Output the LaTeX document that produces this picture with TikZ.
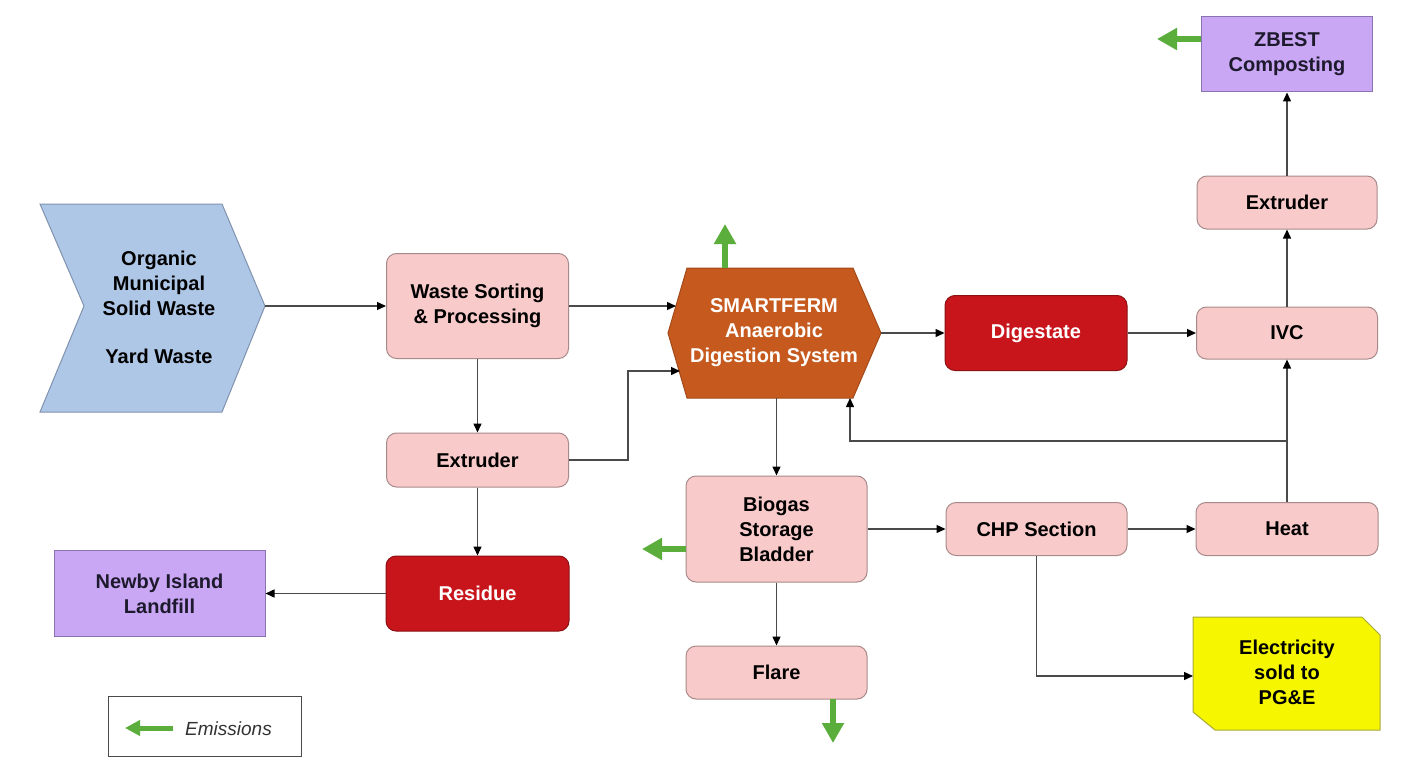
\documentclass[tikz,border=0pt]{standalone}
\usepackage{fontspec}
\setmainfont{Liberation Sans}
\usetikzlibrary{arrows.meta}
\definecolor{pinkfill}{HTML}{F9CACA}
\definecolor{pinkdraw}{HTML}{A88A8A}
\definecolor{redfill}{HTML}{C8151B}
\definecolor{reddraw}{HTML}{8C1014}
\definecolor{orangefill}{HTML}{C65A1E}
\definecolor{orangedraw}{HTML}{A4491A}
\definecolor{purplefill}{HTML}{C9A7F4}
\definecolor{purpledraw}{HTML}{8A74B0}
\definecolor{bluefill}{HTML}{AFC7E7}
\definecolor{bluedraw}{HTML}{8093AE}
\definecolor{yellowfill}{HTML}{F6F600}
\definecolor{yellowdraw}{HTML}{A9A93A}
\definecolor{emgreen}{HTML}{5BAE3B}
\definecolor{linegray}{HTML}{4A4A4A}
\definecolor{darktext}{HTML}{1E1A2E}
\begin{document}
\begin{tikzpicture}[x=1pt,y=-1pt,
  txt/.style={align=center, font=\fontsize{20}{25}\selectfont\bfseries, text=black, inner sep=0pt},
  box/.style={txt, rectangle, rounded corners=10pt, draw=pinkdraw, fill=pinkfill, line width=1pt},
  redbox/.style={box, fill=redfill, draw=reddraw, text=white},
  purplebox/.style={txt, rectangle, draw=purpledraw, fill=purplefill, line width=1pt, text=darktext},
  flow/.style={draw=linegray, line width=1.4pt, -{Triangle[length=9pt,width=8pt,color=black]}},
  emit/.style={draw=emgreen, line width=6pt, -{Triangle[length=20pt,width=21pt]}},
  smallemit/.style={draw=emgreen, line width=5pt, -{Triangle[length=15pt,width=15pt]}}
]
\useasboundingbox (0,0) rectangle (1424,757);
\fill[white] (0,0) rectangle (1424,757);

% input chevron
\draw[fill=bluefill, draw=bluedraw, line width=1pt] (40,204) -- (222,204) -- (265,306) -- (222,412) -- (40,412) -- (84,306) -- cycle;
\coordinate (chevtip) at (265,306);
\node[txt] (org) at (159,307) {Organic\\Municipal\\Solid Waste\\[23pt]Yard Waste};

% SMARTFERM hexagon
\draw[fill=orangefill, draw=orangedraw, line width=1pt] (687,268) -- (853,268) -- (881,333) -- (853,398) -- (687,398) -- (668,333) -- cycle;
\node[txt, text=white] (sf) at (774,333) {SMARTFERM\\Anaerobic\\Digestion System};
\coordinate (sfinA) at (676,306);
\coordinate (sfinB) at (680,371);
\coordinate (sfout) at (881,333);
\coordinate (sfbot) at (776.5,398);
\coordinate (sfbotR) at (850,398);
\coordinate (sftop) at (725,268);
\coordinate (sfem) at (725,224);

% Electricity
\draw[fill=yellowfill, draw=yellowdraw, line width=1pt] (1193,617) -- (1362,617) -- (1380,635) -- (1380,730) -- (1215,730) -- (1193,712) -- cycle;
\node[txt] (el) at (1287,672) {Electricity\\sold to\\PG\&E};
\coordinate (elin) at (1193,676);

% boxes
\node[box, minimum width=182pt, minimum height=105pt] (ws) at (477.5,306) {Waste Sorting\\\& Processing};
\node[box, minimum width=182pt, minimum height=54pt] (ext1) at (477.5,460) {Extruder};
\node[redbox, minimum width=183pt, minimum height=75pt] (res) at (477.5,593.5) {Residue};
\node[purplebox, minimum width=211pt, minimum height=86pt] (land) at (159.5,593.5) {Newby Island\\Landfill};
\node[redbox, minimum width=182pt, minimum height=75pt] (dig) at (1036,333) {Digestate};
\node[box, minimum width=181pt, minimum height=52pt] (ivc) at (1287,333) {IVC};
\node[box, minimum width=180pt, minimum height=53pt] (ext2) at (1287,202.5) {Extruder};
\node[purplebox, minimum width=171pt, minimum height=75pt] (zb) at (1287,54.5) {ZBEST\\Composting};
\node[box, minimum width=181pt, minimum height=106pt] (bio) at (776.5,529) {Biogas\\Storage\\Bladder};
\node[box, minimum width=181pt, minimum height=53pt] (chp) at (1036.5,529) {CHP Section};
\node[box, minimum width=182pt, minimum height=53pt] (heat) at (1287,529) {Heat};
\node[box, minimum width=181pt, minimum height=53pt] (flare) at (776.5,672.5) {Flare};

% connectors
\draw[flow] (chevtip) -- (ws.west);
\draw[flow] (ws.east) -- (sfinA);
\draw[flow] (ws.south) -- (ext1.north);
\draw[flow] (ext1.south) -- (res.north);
\draw[flow] (res.west) -- (land.east);
\draw[flow] (ext1.east) -- ++(59,0) |- (sfinB);
\draw[flow] (sfout) -- (dig.west);
\draw[flow] (dig.east) -- (ivc.west);
\draw[flow] (ivc.north) -- (ext2.south);
\draw[flow] (ext2.north) -- (zb.south);
\draw[flow] (sfbot) -- (bio.north);
\draw[flow] (bio.east) -- (chp.west);
\draw[flow] (chp.east) -- (heat.west);
\draw[flow] (heat.north) -- (ivc.south);
\coordinate (branch) at (1287,441);
\draw[flow] (branch) -| (sfbotR);
\draw[flow] (bio.south) -- (flare.north);
\draw[flow] (chp.south) |- (elin);

% emissions
\draw[emit] (sftop) -- (sfem);
\coordinate (zbem0) at (1201,39);
\coordinate (zbem1) at (1157,39);
\draw[emit] (zbem0) -- (zbem1);
\coordinate (bioem0) at (686,549);
\coordinate (bioem1) at (642,549);
\draw[emit] (bioem0) -- (bioem1);
\coordinate (flem0) at (833,699);
\coordinate (flem1) at (833,743);
\draw[emit] (flem0) -- (flem1);

% legend
\node[draw=linegray, line width=1pt, rectangle, minimum width=193pt, minimum height=60pt, inner sep=0pt] (leg) at (204.5,726) {};
\coordinate (legA) at (173,728);
\coordinate (legB) at (125,728);
\draw[smallemit] (legA) -- (legB);
\node[font=\fontsize{19}{23}\selectfont\itshape, text=black!80, inner sep=0pt, anchor=west] (legtxt) at (185,729) {Emissions};
\end{tikzpicture}
\end{document}
